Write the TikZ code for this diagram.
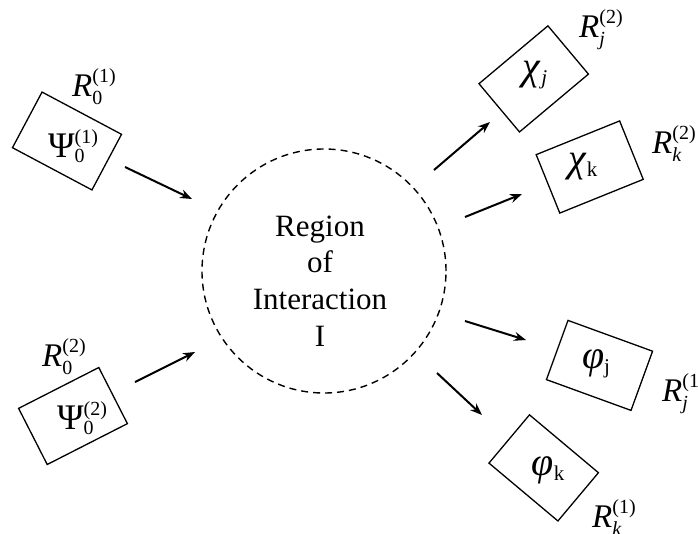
\documentclass[tikz,border=0pt]{standalone}
\usepackage{fontspec}
\setmainfont{Liberation Serif}
\usetikzlibrary{arrows.meta}
% sup/sub stack: #1 sup, #2 sub, #3 size, #4 raise, #5 lower
\newcommand{\supsubstack}[5]{{\fontsize{#3}{#3}\selectfont
  \setbox0=\hbox{\raisebox{#4}{#1}}\setbox2=\hbox{\raisebox{-#5}{#2}}%
  \ifdim\wd0>\wd2 \rlap{\box2}\box0 \else\rlap{\box0}\box2 \fi}}
\newcommand{\Rlab}[2]{\textit{R}\supsubstack{(#1)}{#2}{20}{13.6pt}{8.6pt}}
\newcommand{\Psilab}[1]{Ψ\supsubstack{(#1)}{0}{20}{13.5pt}{5pt}}
\newcommand{\gsub}[2]{#1{\fontsize{21}{21}\selectfont\raisebox{-5pt}{#2}}}
\tikzset{
  statebox/.style={draw, line width=1.3pt, rectangle, inner sep=0pt, outer sep=0pt,
    minimum width=90pt, minimum height=63pt},
  rlabel/.style={inner sep=0pt, anchor=base west, font=\fontsize{33}{38}\selectfont},
  psilabel/.style={inner sep=0pt, font=\fontsize{36}{40}\selectfont},
  greeklabel/.style={inner sep=0pt, font=\fontsize{40}{44}\selectfont},
  flow/.style={line width=2pt, -{Stealth[length=12pt,width=9pt,inset=4pt]}},
  region/.style={circle, draw, line width=1.4pt, dash pattern=on 7pt off 5pt,
    minimum size=244pt, inner sep=0pt},
}
\begin{document}
\begin{tikzpicture}[x=1pt,y=-1pt]
\useasboundingbox (0,0) rectangle (698,533);

% region of interaction
\node[region] (reg) at (324,271) {};
\node[align=center, inner sep=0pt, font=\fontsize{31}{36.7}\selectfont] (regtext) at (320,281)
  {Region\\of\\Interaction\\I};

% incoming boxes
\node[statebox, rotate=-28] (b1) at (67,141) {};
\node[psilabel] (l1) at (73,146) {\Psilab{1}};
\node[rlabel] (r1) at (72,96) {\Rlab{1}{0}};

\node[statebox, rotate=27] (b2) at (73,416) {};
\node[psilabel] (l2) at (82,418) {\Psilab{2}};
\node[rlabel] (r2) at (42,366) {\Rlab{2}{0}};

% outgoing boxes
\node[statebox, rotate=40] (b3) at (533.7,78.9) {};
\node[greeklabel] (l3) at (535,75) {\gsub{\textit{χ}}{\textit{j}}};
\node[rlabel] (r3) at (579,37) {\Rlab{2}{\textit{j}}};

\node[statebox, rotate=22] (b4) at (589.7,167) {};
\node[greeklabel] (l4) at (583,167) {\gsub{\textit{χ}}{k}};
\node[rlabel] (r4) at (652,153) {\Rlab{2}{\textit{k}}};

\node[statebox, rotate=-20] (b5) at (599.5,365.4) {};
\node[greeklabel] (l5) at (596,364) {\gsub{\textit{φ}}{j}};
\node[rlabel] (r5) at (662,401) {\Rlab{1}{\textit{j}}};

\node[statebox, rotate=-40] (b6) at (543.7,467.9) {};
\node[greeklabel] (l6) at (548,470) {\gsub{\textit{φ}}{k}};
\node[rlabel] (r6) at (592,527) {\Rlab{1}{\textit{k}}};

% arrow end points
\coordinate (s1) at (125,167); \coordinate (e1) at (192,199);
\coordinate (s2) at (135,382); \coordinate (e2) at (195,352);
\coordinate (s3) at (434,170); \coordinate (e3) at (490,122);
\coordinate (s4) at (465,217); \coordinate (e4) at (522,194);
\coordinate (s5) at (465,321); \coordinate (e5) at (526,340);
\coordinate (s6) at (437,373); \coordinate (e6) at (482,415);

\draw[flow] (s1) -- (e1);
\draw[flow] (s2) -- (e2);
\draw[flow] (s3) -- (e3);
\draw[flow] (s4) -- (e4);
\draw[flow] (s5) -- (e5);
\draw[flow] (s6) -- (e6);
\end{tikzpicture}
\end{document}
